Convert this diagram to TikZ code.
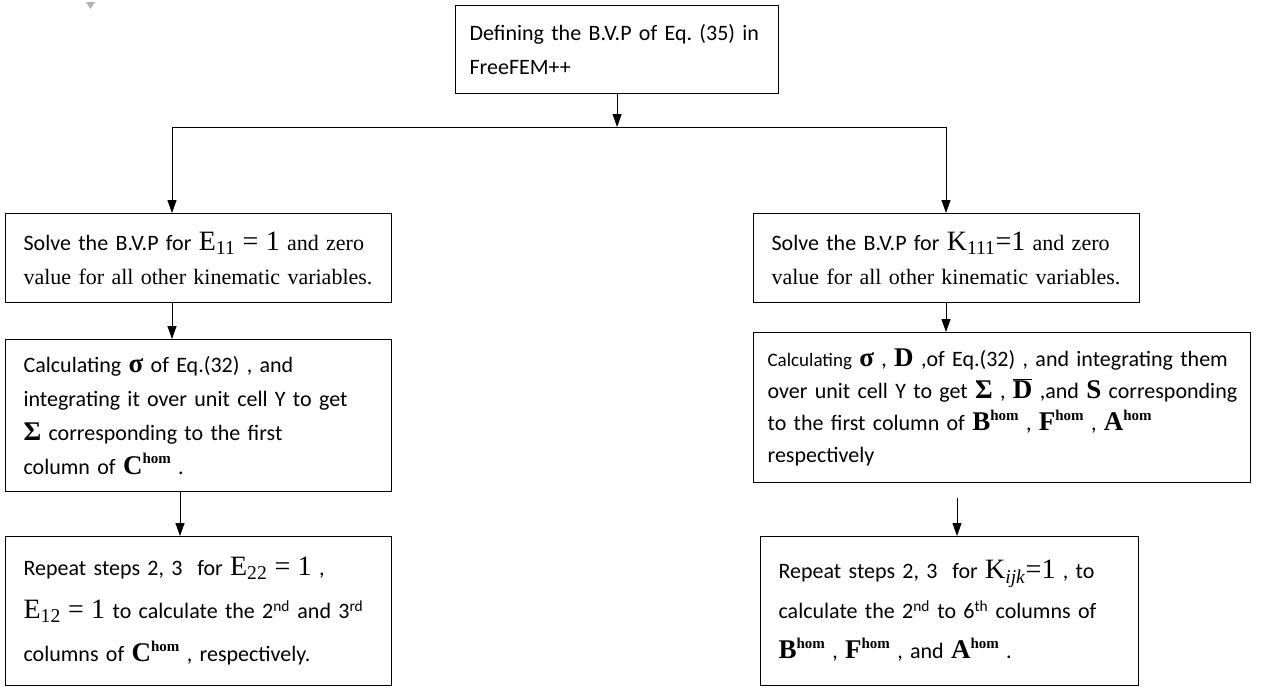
\documentclass[tikz,border=0pt]{standalone}
\usepackage{fontspec}
\setmainfont{Carlito}
\newfontfamily\tnr{Liberation Serif}
\usetikzlibrary{arrows.meta}
\frenchspacing

% Times-like symbols as in the equation editor
\newcommand{\tnrtext}[1]{{\tnr\fontsize{22}{22}\selectfont #1}}
\newcommand{\bigsym}[1]{{\tnr\fontsize{28}{28}\selectfont #1}}
\newcommand{\boldsym}[1]{{\tnr\bfseries\fontsize{27}{27}\selectfont #1}}
\newcommand{\hommat}[1]{{\tnr\bfseries\fontsize{27}{27}\selectfont #1\raisebox{0.85ex}{\fontsize{15}{15}\selectfont hom}}}

\tikzset{
  box/.style={draw, line width=1.2pt, align=left, anchor=north west,
    inner xsep=18pt, inner ysep=0pt, font=\fontsize{22}{34}\selectfont},
  arr/.style={-{Triangle[length=13pt,width=9pt]}, line width=1pt},
}

\begin{document}
\begin{tikzpicture}[x=1pt,y=-1pt]

    \useasboundingbox (0,0) rectangle (1272,691);

    % Stray mark of the scan
    \fill[gray!60] (86,2) -- (95,2) -- (90.5,9) -- cycle;

    % Top box
    \node[box, minimum width=323pt, minimum height=88pt, text width=295pt, inner xsep=12pt] (def) at (455,5)
      {Defining the B.V.P of Eq. (35) in\\FreeFEM++};

    % Left column
    \node[box, minimum width=386pt, minimum height=89pt, text width=350pt] (solveE) at (5,213)
      {\mbox{Solve the B.V.P for \bigsym{E\textsubscript{11} = 1} \tnrtext{and zero}}\\
       \mbox{\tnrtext{value for all other kinematic variables.}}};
    \node[box, minimum width=386pt, minimum height=152pt, text width=350pt] (calcC) at (5,339)
      {Calculating \boldsym{σ} of Eq.(32) , and\\
       \mbox{integrating it over unit cell Y to get}\\
       \boldsym{Σ} corresponding to the first\\
       column of \hommat{C} .};
    \node[box, minimum width=386pt, minimum height=149pt, text width=350pt,
          font=\fontsize{22}{43}\selectfont] (repC) at (5,536)
      {Repeat steps 2, 3\ \ for \bigsym{E\textsubscript{22} = 1} ,\\
       \mbox{\bigsym{E\textsubscript{12} = 1} to calculate the 2\textsuperscript{nd} and 3\textsuperscript{rd}}\\
       columns of \hommat{C} , respectively.};

    % Right column
    \node[box, minimum width=386pt, minimum height=89pt, text width=350pt] (solveK) at (753,213)
      {\mbox{Solve the B.V.P for \bigsym{K\textsubscript{111}=1} \tnrtext{and zero}}\\
       \mbox{\tnrtext{value for all other kinematic variables.}}};
    \node[box, minimum width=497pt, minimum height=150pt, text width=469pt, inner xsep=14pt,
          font=\fontsize{22}{32}\selectfont] (calcB) at (753,332)
      {\mbox{{\fontsize{19}{19}\selectfont Calculating} \boldsym{σ} , \boldsym{D} ,of Eq.(32) , and integrating them}\\
       \mbox{over unit cell Y to get \boldsym{Σ} , $\overline{\mbox{\boldsym{D}}}$ ,and \boldsym{S} corresponding}\\
       to the first column of \hommat{B} , \hommat{F} , \hommat{A}\\
       respectively};
    \node[box, minimum width=378pt, minimum height=149pt, text width=342pt,
          font=\fontsize{22}{40}\selectfont] (repB) at (760,536)
      {Repeat steps 2, 3\ \ for \bigsym{K\textsubscript{\textit{ijk}}=1} , to\\
       \mbox{calculate the 2\textsuperscript{nd} to 6\textsuperscript{th} columns of}\\
       \hommat{B} , \hommat{F} , and \hommat{A} .\\[6pt]};

    % Split line
    \coordinate (hl) at (172,127);
    \coordinate (hr) at (946,127);
    \coordinate (cl) at (180,0);
    \coordinate (cr) at (957,0);
    \draw[arr] (def.south) -- (def.south |- hl);
    \draw[line width=1pt] (hl) -- (hr);
    \draw[arr] (hl) -- (hl |- solveE.north);
    \draw[arr] (hr) -- (hr |- solveK.north);

    % Arrows down the columns
    \draw[arr] (hl |- solveE.south) -- (hl |- calcC.north);
    \draw[arr] (cl |- calcC.south) -- (cl |- repC.north);
    \draw[arr] (hr |- solveK.south) -- (hr |- calcB.north);
    \draw[arr, shorten <=15pt] (cr |- calcB.south) -- (cr |- repB.north);

\end{tikzpicture}
\end{document}
